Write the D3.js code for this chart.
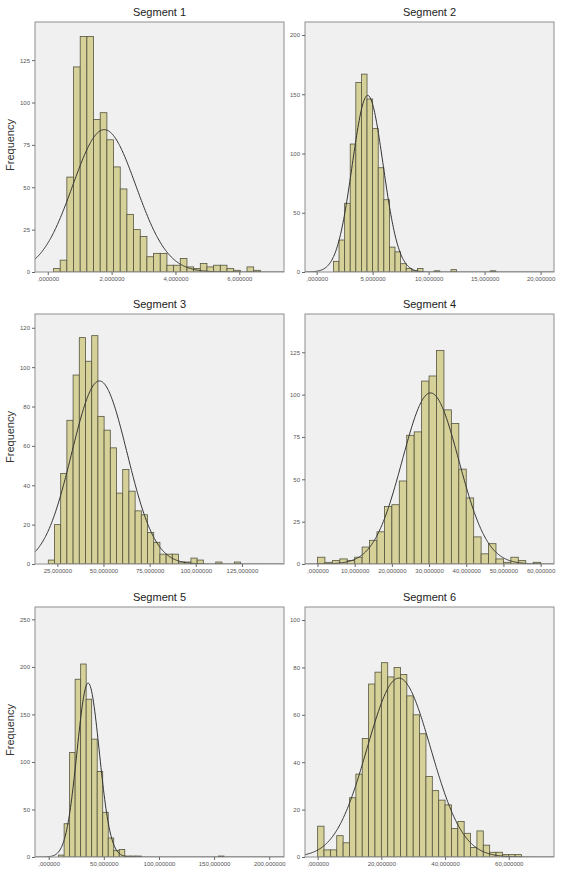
<!DOCTYPE html>
<html><head><meta charset="utf-8">
<script src="https://cdn.jsdelivr.net/npm/d3@7"></script>
<style>body{margin:0;background:#fff} svg{display:block}</style>
</head><body>
<svg id="chart" width="562" height="875"></svg>
<script>
// ---------------- DATA ----------------
const segmentTitles = ["Segment 1", "Segment 2", "Segment 3", "Segment 4", "Segment 5", "Segment 6"];
const yAxisTitle = "Frequency";

// histogram bin counts
const seg1Counts = [2,7,56,121,139,139,90,94,78,62,49,34,25,21,9,11,11,4,4,8,3,2,5,3,4,4,2,1,0,3,1];
const seg2Counts = [9,27,58,108,160,167,146,121,88,61,21,17,7,3,1,3,0,0,1,0,0,2,0,0,0,0,0,0,1];
const seg3Counts = [2,20,46,73,96,115,103,116,75,68,59,36,48,37,27,25,16,11,5,5,5,1,1,3,2,0,0,1,0,0,1];
const seg4Counts = [4,1,2,3,2,4,10,14,19,34,35,49,76,78,108,111,126,91,83,56,39,16,6,12,3,1,4,2,0,1];
const seg5Counts = [2,35,110,187,203,166,124,90,47,20,7,8,1,1,1,0,0,0,0,0,0,0,0,0,0,0,0,0,0,1];
const seg6Counts = [13,3,3,9,6,25,35,50,73,78,82,76,80,77,68,60,52,34,28,24,22,12,15,10,4,11,5,2,2,1,1,1];
const segCounts = [seg1Counts, seg2Counts, seg3Counts, seg4Counts, seg5Counts, seg6Counts];

// bin start / width (data units)
const binStart = [0.18, 1.5, 20.1, 0, 9, 0];
const binWidth = [0.209, 0.5, 3.36, 2, 5, 2];

// axis domains and ticks
const xMin = [-0.4, -1.04, 12.9, -3.36, -12.4, -3.97];
const xMax = [7.4, 21.2, 147.8, 63.6, 213.4, 74.2];
const xTickValues = [[0,2,4,6],[0,5,10,15,20],[25,50,75,100,125],[0,10,20,30,40,50,60],[0,50,100,150,200],[0,20,40,60]];
const yMax = [147.5, 211, 127, 147.6, 263, 105.5];
const yTickValues = [[0,25,50,75,100,125],[0,50,100,150,200],[0,20,40,60,80,100,120],[0,25,50,75,100,125],[0,50,100,150,200,250],[0,20,40,60,80,100]];

// fitted normal curve parameters
const curveMean = [1.77, 4.56, 47.8, 30.4, 35.8, 25.5];
const curveSD = [0.99, 1.38, 15.0, 7.6, 10.1, 10.0];
const curvePeak = [84, 149, 93, 101, 183, 75.5];

// ---------------- LAYOUT ----------------
const colX = [35, 305], rowY = [22, 314, 607];
const W = 249, H = 250;
const fmt = v => (v === 0 ? "" : String(v)) + ",000000";

const svg = d3.select("#chart");
const font = "'Liberation Sans', Arial, sans-serif";

segmentTitles.forEach((title, i) => {
  const col = i % 2, row = Math.floor(i / 2);
  const x0 = colX[col], y0 = rowY[row];
  const g = svg.append("g").attr("transform", `translate(${x0},${y0})`);

  const x = d3.scaleLinear().domain([xMin[i], xMax[i]]).range([0, W]);
  const y = d3.scaleLinear().domain([0, yMax[i]]).range([H, 0]);

  g.append("rect").attr("width", W).attr("height", H).attr("fill", "#f0f0f0");

  const clipId = "clip" + i;
  g.append("clipPath").attr("id", clipId).append("rect").attr("width", W).attr("height", H);
  const inner = g.append("g").attr("clip-path", `url(#${clipId})`);

  const bins = segCounts[i].map((c, k) => ({x0: binStart[i] + k * binWidth[i], x1: binStart[i] + (k + 1) * binWidth[i], c}));
  inner.selectAll("rect.bar").data(bins.filter(d => d.c > 0)).join("rect")
    .attr("class", "bar")
    .attr("x", d => x(d.x0))
    .attr("width", d => x(d.x1) - x(d.x0))
    .attr("y", d => y(d.c))
    .attr("height", d => y(0) - y(d.c))
    .attr("fill", "#d5d199")
    .attr("stroke", "#55543f")
    .attr("stroke-width", 0.8);

  const pts = d3.range(0, 401).map(k => {
    const xv = xMin[i] + (xMax[i] - xMin[i]) * k / 400;
    return [xv, curvePeak[i] * Math.exp(-Math.pow(xv - curveMean[i], 2) / (2 * curveSD[i] * curveSD[i]))];
  });
  inner.append("path").datum(pts)
    .attr("d", d3.line().x(d => x(d[0])).y(d => y(d[1])))
    .attr("fill", "none").attr("stroke", "#333").attr("stroke-width", 1);

  g.append("rect").attr("width", W).attr("height", H)
    .attr("fill", "none").attr("stroke", "#8e8e8e").attr("stroke-width", 1);

  const xa = g.append("g").attr("transform", `translate(0,${H})`)
    .call(d3.axisBottom(x).tickValues(xTickValues[i]).tickFormat(fmt).tickSize(3).tickPadding(2));
  xa.select(".domain").remove();
  xa.selectAll("line").attr("stroke", "#666");
  xa.selectAll("text").attr("font-family", font).attr("font-size", 6).attr("fill", "#555");

  const ya = g.append("g")
    .call(d3.axisLeft(y).tickValues(yTickValues[i]).tickSize(3).tickPadding(2));
  ya.select(".domain").remove();
  ya.selectAll("line").attr("stroke", "#666");
  ya.selectAll("text").attr("font-family", font).attr("font-size", 6).attr("fill", "#555");

  g.append("text").attr("x", W / 2).attr("y", -6).attr("text-anchor", "middle")
    .attr("font-family", font).attr("font-size", 11).attr("fill", "#222").text(title);

  if (col === 0) {
    g.append("text").attr("transform", `translate(${10 - x0},${H / 2 - 2}) rotate(-90)`)
      .attr("text-anchor", "middle").attr("dy", "0.35em")
      .attr("font-family", font).attr("font-size", 11).attr("fill", "#333").text(yAxisTitle);
  }
});
</script>
</body></html>
